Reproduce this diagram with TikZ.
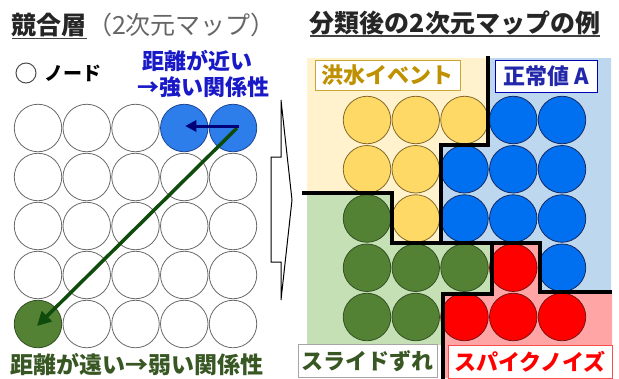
\documentclass[tikz,border=0pt]{standalone}
\usepackage{fontspec}
\setmainfont{Noto Sans CJK JP}
\usetikzlibrary{arrows.meta}
\definecolor{WF}{RGB}{255,255,255}\definecolor{WD}{RGB}{105,105,105}
\definecolor{AF}{RGB}{45,125,235}\definecolor{AD}{RGB}{30,70,150}
\definecolor{BF}{RGB}{0,112,240}\definecolor{BD}{RGB}{20,40,100}
\definecolor{GF}{RGB}{84,130,53}\definecolor{GD}{RGB}{50,80,35}
\definecolor{YF}{RGB}{255,217,102}\definecolor{YD}{RGB}{130,105,40}
\definecolor{RF}{RGB}{255,0,0}\definecolor{RD}{RGB}{120,20,20}
\definecolor{ybg}{RGB}{255,242,204}
\definecolor{bbg}{RGB}{189,215,238}
\definecolor{gbg}{RGB}{197,224,180}
\definecolor{rbg}{RGB}{255,165,165}
\definecolor{txtblue}{RGB}{25,25,200}
\definecolor{txtgreen}{RGB}{56,87,35}
\definecolor{txtgold}{RGB}{191,144,0}
\definecolor{lblblue}{RGB}{35,40,170}
\definecolor{arrnavy}{RGB}{0,0,120}
\definecolor{arrgreen}{RGB}{15,75,10}
\begin{document}
\begin{tikzpicture}[x=1pt,y=-1pt,
  cc/.style={circle,inner sep=0pt,minimum size=47.5pt,line width=0.8pt},
  txt/.style={inner sep=0pt,outer sep=0pt},
  ul/.style={line width=1.6pt,draw=black!75},
  border/.style={line width=4pt,black},
  lbl/.style={draw,fill=white,line width=1pt,inner sep=0pt,font=\fontsize{22}{26}\selectfont\bfseries},
  bigarrow/.style={draw=black,line width=1pt,fill=white}]
\useasboundingbox (0,0) rectangle (619,378);

% ---------- left panel ----------
\node[txt,anchor=base west,font=\fontsize{25}{30}\selectfont\bfseries,text=black!85] (t1a) at (12,34) {競合層};
\node[txt,anchor=base west,font=\fontsize{25}{30}\selectfont,text=black!60] (t1b) at (t1a.base east) {（2次元マップ）};
\draw[ul] ([yshift=-4.5pt]t1a.base west) -- ([yshift=-4.5pt]t1a.base east);

\node[circle,draw=black!70,line width=1pt,minimum size=20pt,inner sep=0pt] (icon) at (26,73) {};
\node[txt,anchor=west,font=\fontsize{19}{22}\selectfont\bfseries] (nodelbl) at (45,73) {ノード};

\node[txt,font=\fontsize{22}{26}\selectfont\bfseries,text=txtblue] (near1) at (197,61) {距離が近い};
\node[txt,font=\fontsize{22}{26}\selectfont\bfseries,text=txtblue] (near2) at (203,87) {→強い関係性};

\foreach \row [count=\r from 0] in {{W,W,W,A,A},{W,W,W,W,W},{W,W,W,W,W},{W,W,W,W,W},{G,W,W,W,W}} {
  \foreach \s [count=\c from 0] in \row {
    \node[cc,fill=\s F,draw=\s D] (L\r\c) at ({38+48.75*\c},{128+49*\r}) {};
  }
}
\draw[arrgreen,line width=3.5pt,-{Triangle[length=14pt,width=14pt]}] ([xshift=4pt]L04.center) -- ([xshift=-1pt,yshift=-2pt]L40.center);
\draw[arrnavy,line width=3pt,-{Triangle[length=11pt,width=11pt]}] ([xshift=6pt,yshift=2pt]L04.center) -- ([xshift=1pt,yshift=2pt]L03.center);

\node[txt,font=\fontsize{23}{27}\selectfont\bfseries,text=txtgreen] (far) at (137,365) {距離が遠い→弱い関係性};

% ---------- middle arrow ----------
\draw[bigarrow] (271,157) -- (281,157) -- (281,100) -- (292,200) -- (281,300) -- (281,262) -- (271,262) -- cycle;

% ---------- right panel ----------
\node[txt,anchor=base,font=\fontsize{25}{30}\selectfont\bfseries,text=black!85] (t2) at (455,32) {分類後の2次元マップの例};
\draw[ul] ([yshift=-4pt]t2.base west) -- ([yshift=-4pt]t2.base east);

\fill[ybg] (307,58) -- (488,58) -- (488,145) -- (441,145) -- (441,243) -- (392,243) -- (392,193) -- (307,193) -- cycle;
\fill[bbg] (488,58) -- (611,58) -- (611,292) -- (540,292) -- (540,243) -- (441,243) -- (441,145) -- (488,145) -- cycle;
\fill[gbg] (307,193) -- (392,193) -- (392,243) -- (492,243) -- (492,294) -- (443,294) -- (443,345) -- (307,345) -- cycle;
\fill[rbg] (443,294) -- (492,294) -- (492,243) -- (540,243) -- (540,292) -- (612,292) -- (612,378) -- (443,378) -- cycle;

\foreach \row [count=\r from 0] in {{Y,Y,Y,B,B},{Y,Y,B,B,B},{G,Y,B,B,B},{G,G,G,R,B},{G,G,R,R,R}} {
  \foreach \s [count=\c from 0] in \row {
    \node[cc,fill=\s F,draw=\s D] (R\r\c) at ({367+48.75*\c},{120+49.25*\r}) {};
  }
}

\draw[border] (488,56) -- (488,145) -- (441,145) -- (441,243);
\draw[border] (302,193) -- (392,193) -- (392,243) -- (540,243) -- (540,292) -- (612,292);
\draw[border] (492,243) -- (492,294) -- (443,294) -- (443,380);

\node[lbl,draw=txtgold!80,text=txtgold,minimum width=145pt,minimum height=30pt] (flood) at (387.5,75) {洪水イベント};
\node[lbl,draw=blue!70!black,text=lblblue,minimum width=102pt,minimum height=32pt] (normal) at (546,76) {正常値 A};
\node[lbl,draw=black!35,text=txtgreen,minimum width=139pt,minimum height=33pt] (slide) at (367.5,361) {スライドずれ};
\node[lbl,draw=red!70,text=red,minimum width=164pt,minimum height=33pt] (spike) at (530,362) {スパイクノイズ};
\end{tikzpicture}
\end{document}
